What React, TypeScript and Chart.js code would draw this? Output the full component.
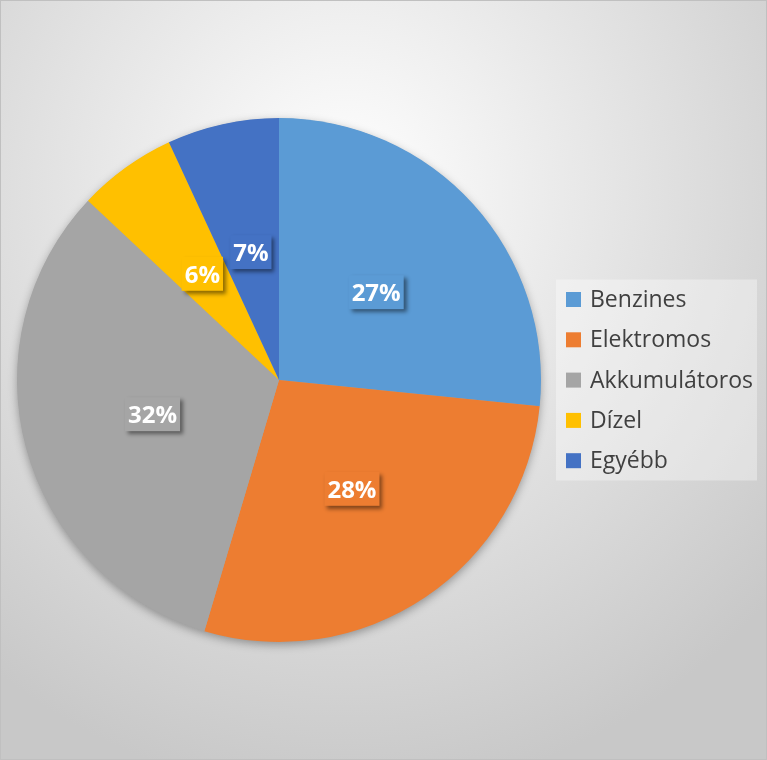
import React, { useEffect, useRef } from "react";
import { Chart, registerables } from "chart.js";

Chart.register(...registerables);

const categories = ["Benzines", "Elektromos", "Akkumulátoros", "Dízel", "Egyébb"];
const values = [26.6, 28.0, 32.4, 6.1, 6.9];
const colors = ["#5B9BD5", "#ED7D31", "#A5A5A5", "#FFC000", "#4472C4"];

const pieShadowPlugin = {
  id: "pieShadow",
  beforeDatasetsDraw(chart: any) {
    const meta = chart.getDatasetMeta(0);
    const arc = meta.data[0];
    if (!arc) return;
    const { x, y, outerRadius } = arc.getProps(["x", "y", "outerRadius"], true);
    const ctx = chart.ctx;
    ctx.save();
    ctx.shadowColor = "rgba(0,0,0,0.35)";
    ctx.shadowBlur = 10;
    ctx.shadowOffsetX = 0;
    ctx.shadowOffsetY = 3;
    ctx.fillStyle = "#a5a5a5";
    ctx.beginPath();
    ctx.arc(x, y, outerRadius - 0.5, 0, Math.PI * 2);
    ctx.fill();
    ctx.restore();
  },
};

const dataLabelPlugin = {
  id: "boxLabels",
  afterDatasetsDraw(chart: any) {
    const ctx = chart.ctx;
    const ds = chart.data.datasets[0];
    const data = ds.data as number[];
    const total = data.reduce((a, b) => a + b, 0);
    const meta = chart.getDatasetMeta(0);
    ctx.save();
    ctx.font = "bold 24px 'Open Sans', sans-serif";
    ctx.textAlign = "center";
    ctx.textBaseline = "middle";
    meta.data.forEach((arc: any, i: number) => {
      const pos = arc.tooltipPosition(true);
      const text = Math.round((data[i] / total) * 100) + "%";
      const w = ctx.measureText(text).width + 6;
      const h = 34;
      ctx.save();
      ctx.shadowColor = "rgba(0,0,0,0.45)";
      ctx.shadowBlur = 4;
      ctx.shadowOffsetX = 3;
      ctx.shadowOffsetY = 3;
      ctx.fillStyle = ds.backgroundColor[i];
      ctx.fillRect(pos.x - w / 2, pos.y - h / 2, w, h);
      ctx.restore();
      ctx.fillStyle = "#ffffff";
      ctx.fillText(text, pos.x, pos.y + 2);
    });
    ctx.restore();
  },
};

const legendPlugin = {
  id: "boxLegend",
  afterDraw(chart: any) {
    const ctx = chart.ctx;
    const ds = chart.data.datasets[0];
    const labels = chart.data.labels as string[];
    const area = chart.chartArea;
    const boxX = area.right + 15;
    const boxW = 201;
    const rowH = 40.3;
    const boxH = 201;
    const boxY = (area.top + area.bottom) / 2 - boxH / 2;
    ctx.save();
    ctx.fillStyle = "rgba(255,255,255,0.35)";
    ctx.fillRect(boxX, boxY, boxW, boxH);
    ctx.font = "23px 'Open Sans', sans-serif";
    ctx.textBaseline = "middle";
    ctx.textAlign = "left";
    labels.forEach((lab, i) => {
      const cy = boxY + 20 + i * rowH;
      ctx.fillStyle = ds.backgroundColor[i];
      ctx.fillRect(boxX + 10, cy - 7.5, 15, 15);
      ctx.fillStyle = "#404040";
      ctx.fillText(lab, boxX + 34, cy + 1);
    });
    ctx.restore();
  },
};

export default function App() {
  const ref = useRef<HTMLCanvasElement>(null);
  useEffect(() => {
    if (!ref.current) return;
    const chart = new Chart(ref.current, {
      type: "pie",
      data: {
        labels: categories,
        datasets: [
          {
            data: values,
            backgroundColor: colors,
            borderWidth: 0,
            hoverOffset: 0,
            offset: 0,
          },
        ],
      },
      options: {
        animation: false,
        responsive: false,
        maintainAspectRatio: false,
        layout: { padding: { left: 16, right: 225, top: 117, bottom: 117 } },
        plugins: {
          legend: { display: false },
          tooltip: { enabled: false },
        },
      },
      plugins: [pieShadowPlugin, dataLabelPlugin, legendPlugin],
    });
    return () => chart.destroy();
  }, []);
  return (
    <div
      style={{
        position: "absolute",
        left: 0,
        top: 0,
        width: 767,
        height: 760,
        boxSizing: "border-box",
        border: "1px solid #c0c0c0",
        background:
          "radial-gradient(ellipse 75% 80% at 45% 25%, #ffffff 0%, #e6e6e6 45%, #c8c8c8 100%)",
        overflow: "hidden",
      }}
    >
      <canvas
        ref={ref}
        width={765}
        height={758}
        style={{ position: "absolute", left: 0, top: 0, width: 765, height: 758 }}
      />
    </div>
  );
}
